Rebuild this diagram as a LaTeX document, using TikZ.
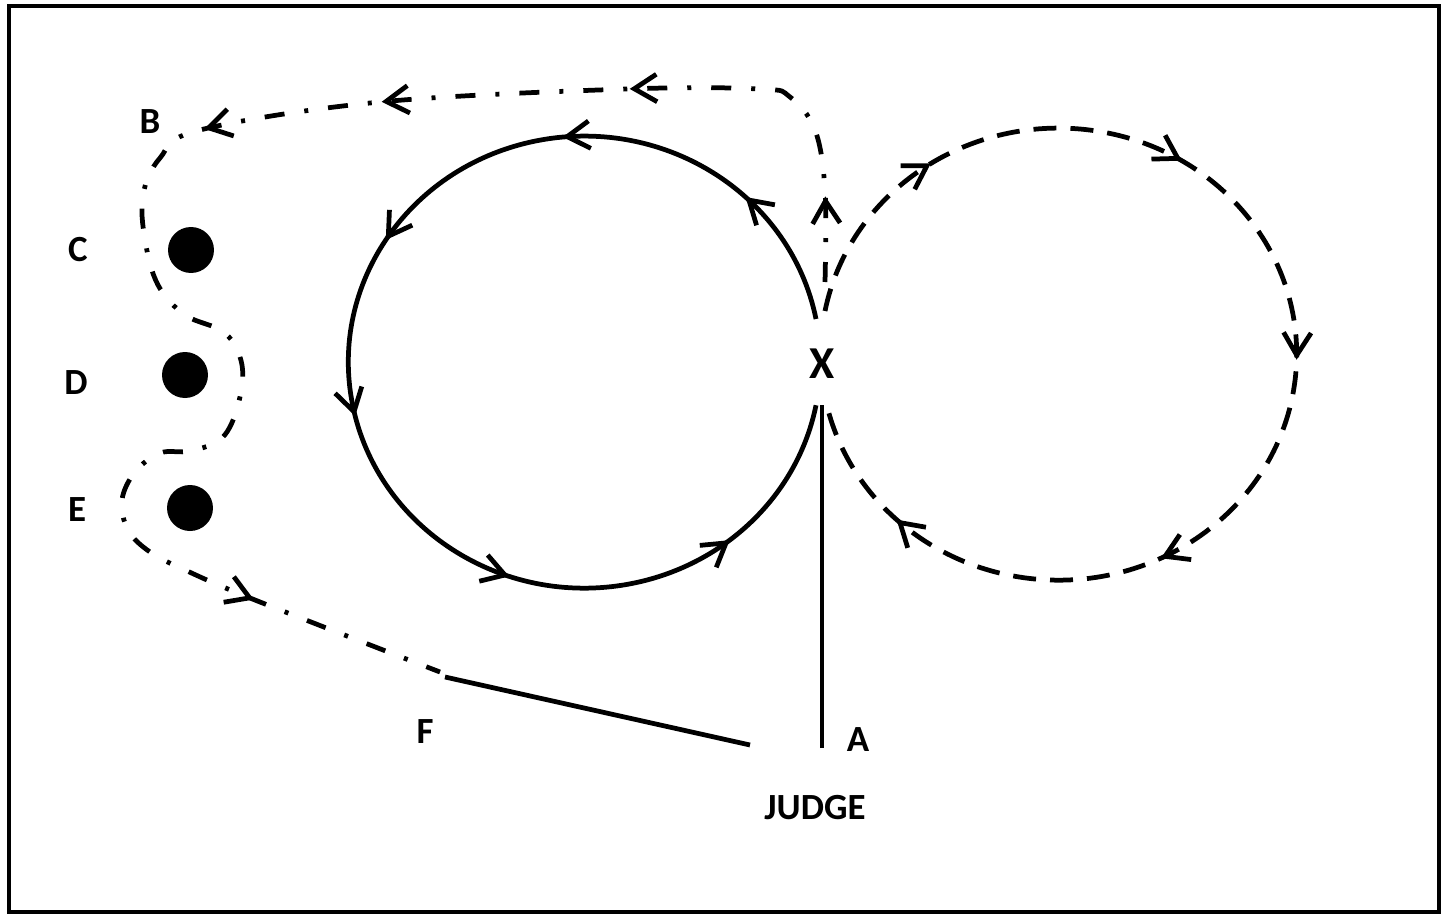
\documentclass[tikz,border=0pt]{standalone}
\usepackage{fontspec}
\setmainfont{Carlito}
\usetikzlibrary{arrows.meta,decorations.markings}

\begin{document}
\begin{tikzpicture}[x=0.02cm, y=-0.02cm, line width=0.095cm,
    >={Straight Barb[length=0.45cm,width=0.55cm]},
    lbl/.style={font=\bfseries\fontsize{21}{21}\selectfont, inner sep=0pt},
    dashdot/.style={dash pattern=on 0.4cm off 0.4cm on 0.08cm off 0.4cm},
    longdash/.style={dash pattern=on 0.46cm off 0.28cm},
    marker/.style={circle, fill=black, minimum size=0.92cm, inner sep=0pt}]
    \useasboundingbox (0,0) rectangle (1449,919);
    % Rahmen
    \draw[line width=0.08cm] (9,6) rectangle (1439,912);
    % Punkte
    \coordinate (Xtop) at (816,319);
    \coordinate (Xbot) at (816,405);
    \coordinate (Rtop) at (825,311);
    \coordinate (Rbot) at (834,405);
    \coordinate (Aend) at (822,748);
    \coordinate (Aup) at (822,405);
    \coordinate (Jend) at (750,745);
    \coordinate (Fstart) at (445,677);
    % Kegel
    \foreach \n/\x/\y in {C/191/250, D/185/375, E/190/508} {
        \node[marker] (dot\n) at (\x,\y) {};
    }
    % Beschriftung
    \node[lbl] (labB) at (150,122) {B};
    \node[lbl] (labC) at (78,250) {C};
    \node[lbl] (labD) at (76,383) {D};
    \node[lbl] (labE) at (77,510) {E};
    \node[lbl] (labF) at (425,732) {F};
    \node[lbl] (labA) at (858,740) {A};
    \node[lbl] (judge) at (815,808) {JUDGE};
    \node[font=\bfseries\fontsize{26}{26}\selectfont, inner sep=0pt] (X) at (822,364) {X};
    % linker Kreis
    \draw[postaction={decorate, decoration={markings,
        mark=at position 0.105 with {\arrow{>}},
        mark=at position 0.25 with {\arrow{>}},
        mark=at position 0.405 with {\arrow{>}},
        mark=at position 0.54 with {\arrow{>}},
        mark=at position 0.71 with {\arrow{>}},
        mark=at position 0.88 with {\arrow{>}}}}]
        (Xtop) arc[start angle=-11, end angle=-349, x radius=236, y radius=226];
    % rechter Kreis
    \draw[longdash, postaction={decorate, decoration={markings,
        mark=at position 0.137 with {\arrow{>}},
        mark=at position 0.33 with {\arrow{>}},
        mark=at position 0.507 with {\arrow{>}},
        mark=at position 0.693 with {\arrow{>}},
        mark=at position 0.9 with {\arrow{>}}}}]
        (Rtop) arc[start angle=191, end angle=527, x radius=238, y radius=226];
    % Weg ueber B, Slalom und F
    \draw[dashdot, postaction={decorate, decoration={markings,
        mark=at position 0.051 with {\arrow{>}},
        mark=at position 0.213 with {\arrow{>}},
        mark=at position 0.361 with {\arrow{>}},
        mark=at position 0.468 with {\arrow{>}},
        mark=at position 0.881 with {\arrow{>}}}}]
        plot[smooth, tension=0.6] coordinates {(825,282) (825,190) (815,130) (790,97)
        (760,89) (627,89) (380,102) (200,130) (160,158) (143,195) (145,240) (158,285)
        (185,315) (225,333) (242,365) (238,405) (222,438) (190,451) (160,453) (135,472)
        (122,500) (128,530) (150,552) (185,570) (255,600) (440,672)};
    % Linien zum Richter
    \draw (Aend) -- (Aup);
    \draw (Fstart) -- (Jend);
\end{tikzpicture}
\end{document}
